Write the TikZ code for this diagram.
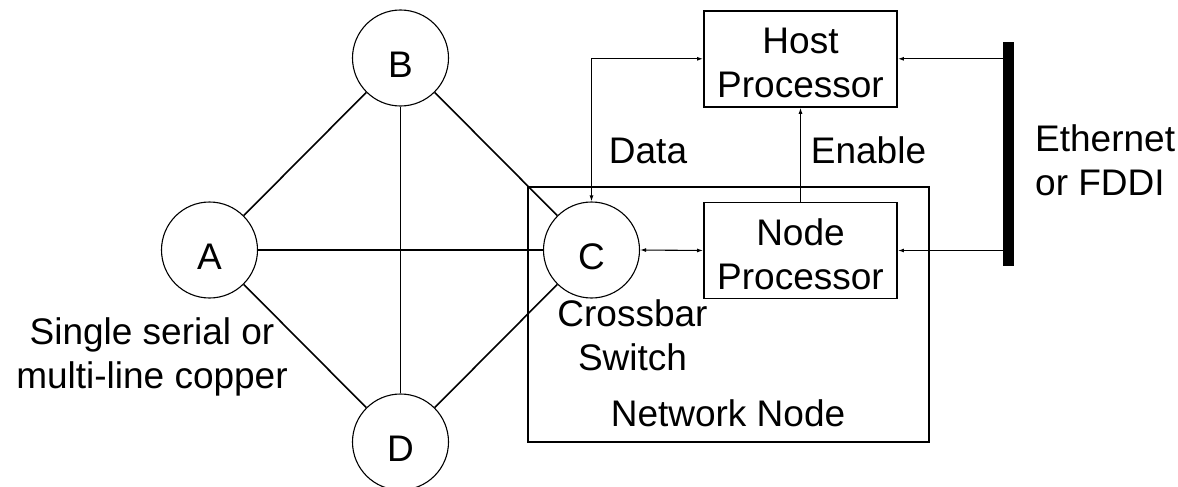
\documentclass[tikz,border=0pt]{standalone}
\usepackage{fontspec}
\setmainfont{Liberation Sans}
\usetikzlibrary{arrows.meta}
\begin{document}
\begin{tikzpicture}[x=1pt,y=-1pt,
  every node/.style={font=\fontsize{37}{43.5}\selectfont},
  station/.style={circle,draw,line width=1.1pt,minimum size=96pt,inner sep=0pt,text height=39pt,text depth=0pt},
  procbox/.style={draw,line width=1.9pt,minimum width=193pt,minimum height=96pt,inner sep=0pt,align=center,text height=77pt,text depth=0pt},
  link/.style={line width=1.6pt},
  signal/.style={line width=1.1pt,{Latex[length=6pt,width=4pt]}-{Latex[length=6pt,width=4pt]}},
  feed/.style={line width=1.1pt,-{Latex[length=6pt,width=4pt]}},
  caption/.style={inner sep=0pt,anchor=base}]
\useasboundingbox (0,0) rectangle (1178,487);

% network node enclosure
\draw[line width=1.9pt] (528,187) rectangle (929,442);

% switching stations
\node[station] (a) at (209.5,250) {A};
\node[station] (b) at (400.5,58) {B};
\node[station] (c) at (591.5,250) {C};
\node[station] (d) at (400.5,442) {D};

% full mesh of links
\draw[link] (a) -- (b);
\draw[link] (a) -- (c);
\draw[link] (a) -- (d);
\draw[link] (b) -- (c);
\draw[link] (b) -- (d);
\draw[link] (c) -- (d);

% processors
\node[procbox] (host) at (800.5,58.8) {Host\\Processor};
\node[procbox] (np) at (800.5,250.5) {Node\\Processor};

% external network bus
\node[fill=black,minimum width=11pt,minimum height=224pt,inner sep=0pt] (bus) at (1008.5,153.7) {};

% connections
\draw[signal] (host.west) -| (c.north);
\draw[signal] (c.east) -- (np.west);
\draw[feed] (np.north) -- (host.south);
\draw[feed] (bus.west |- host.east) -- (host.east);
\draw[feed] (bus.west |- np.east) -- (np.east);

% labels (multi-line labels sit on the baseline of their last line)
\node[caption] (data) at (648,163) {Data};
\node[caption] (enable) at (868.5,163) {Enable};
\node[caption,align=left,anchor=base west] (ether) at (1035,195) {Ethernet\\or FDDI};
\node[caption,align=center] (xbar) at (632.5,370) {Crossbar\\Switch};
\node[caption] (nn) at (728,426.7) {Network Node};
\node[caption,align=center] (copper) at (152,388) {Single serial or\\multi-line copper};
\end{tikzpicture}
\end{document}
